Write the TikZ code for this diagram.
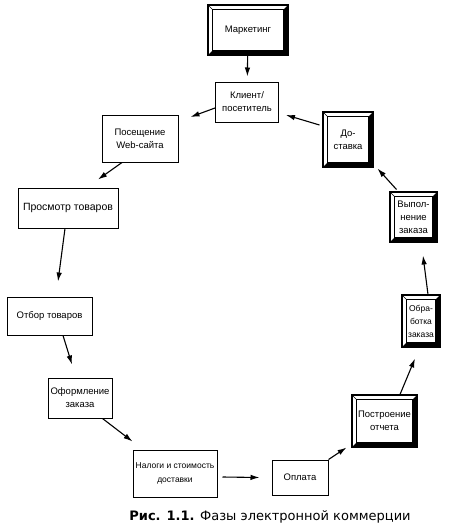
\documentclass[tikz,border=0pt]{standalone}
\usepackage{fontspec}
\setmainfont{Liberation Sans}
\newfontfamily\capfont{DejaVu Sans}
\usetikzlibrary{arrows.meta}

\tikzset{
  stage/.style={draw, line width=1pt, align=center, inner sep=2pt,
    font=\fontsize{9.5}{13}\selectfont},
  arr/.style={line width=1.1pt, -{Latex[length=9pt,width=5.5pt]}}
}
% frame with dark lower and right faces
\newcommand{\bevel}[1]{%
  \path[fill=black] (#1.south west) -- (#1.south east) -- (#1.north east)
    -- ([xshift=-5pt,yshift=-5pt]#1.north east) -- ([xshift=-5pt,yshift=5pt]#1.south east)
    -- ([xshift=5pt,yshift=5pt]#1.south west) -- cycle;
  \draw[line width=0.5pt] ([xshift=5pt,yshift=5pt]#1.south west) rectangle ([xshift=-5pt,yshift=-5pt]#1.north east);
  \draw[line width=0.5pt] (#1.north west) -- ([xshift=5pt,yshift=-5pt]#1.north west);
  \draw[line width=1.8pt] (#1.south west) rectangle (#1.north east);
}

\begin{document}
\begin{tikzpicture}[x=1pt, y=-1pt]
  \useasboundingbox (0,0) rectangle (460,530);

  % top of the cycle
  \node[stage, minimum width=80pt, minimum height=50pt] (mark) at (248,30) {Маркетинг};
  \node[stage, minimum width=63pt, minimum height=40pt] (klient) at (247,102) {Клиент/\\посетитель};
  \node[stage, minimum width=76pt, minimum height=47pt] (posesh) at (140,138.5) {Посещение\\Web-сайта};
  \node[stage, minimum width=50pt, minimum height=55pt] (dost) at (348,139.5) {До-\\ставка};

  % left side
  \node[stage, minimum width=100pt, minimum height=40pt, font=\fontsize{10.5}{13}\selectfont] (prosm) at (68,208) {Просмотр товаров};
  \node[stage, minimum width=85pt, minimum height=38pt] (otbor) at (49.5,316) {Отбор товаров};
  \node[stage, minimum width=64pt, minimum height=40pt] (oform) at (80,398) {Оформление\\заказа};

  % bottom
  \node[stage, minimum width=84pt, minimum height=47pt, font=\fontsize{8.5}{14}\selectfont] (nalogi) at (175,473.5) {Налоги и стоимость\\доставки};
  \node[stage, minimum width=56pt, minimum height=35pt] (oplata) at (300,477.5) {Оплата};

  % right side
  \node[stage, minimum width=65pt, minimum height=52pt] (postr) at (384.5,421) {Построение\\отчета};
  \node[stage, minimum width=38pt, minimum height=52pt, font=\fontsize{8.5}{13}\selectfont] (obrab) at (421,321) {Обра-\\ботка\\заказа};
  \node[stage, minimum width=47pt, minimum height=50pt] (vypol) at (413.5,217) {Выпол-\\нение\\заказа};

  \bevel{mark}
  \bevel{dost}
  \bevel{vypol}
  \bevel{obrab}
  \bevel{postr}

  % arrows round the cycle
  \draw[arr, shorten >=5pt] (mark) -- (klient);
  \draw[arr] ([yshift=-6pt]klient.west) -- ([xshift=12pt,yshift=21.5pt]posesh.east);
  \draw[arr] ([xshift=-18pt]posesh.south) -- ([xshift=30pt,yshift=8pt]prosm.north);
  \draw[arr] ([xshift=-3pt]prosm.south) -- ([xshift=8.5pt,yshift=15pt]otbor.north);
  \draw[arr] ([xshift=13.5pt]otbor.south) -- ([xshift=-8pt,yshift=13pt]oform.north);
  \draw[arr] ([xshift=-10pt]oform.south east) -- ([yshift=8pt]nalogi.north west);
  \draw[arr] ([xshift=5pt,yshift=-3.5pt]nalogi.east) -- ([xshift=-12pt]oplata.west);
  \draw[arr] (oplata.north east) -- ([xshift=-5pt]postr.south west);
  \draw[arr] ([xshift=15.5pt]postr.north) -- ([xshift=-6pt,yshift=-11pt]obrab.south);
  \draw[arr] ([xshift=7pt]obrab.north) -- ([xshift=9.5pt,yshift=-13pt]vypol.south);
  \draw[arr] ([xshift=7pt,yshift=2pt]vypol.north west) -- ([xshift=4pt,yshift=-1pt]dost.south east);
  \draw[arr] ([xshift=-3pt,yshift=14.5pt]dost.west) -- ([xshift=7pt,yshift=-13pt]klient.east);

  \node[font=\capfont\fontsize{13}{15}\selectfont] (caption) at (270,517)
    {\textbf{Рис. 1.1.} Фазы электронной коммерции};
\end{tikzpicture}
\end{document}
